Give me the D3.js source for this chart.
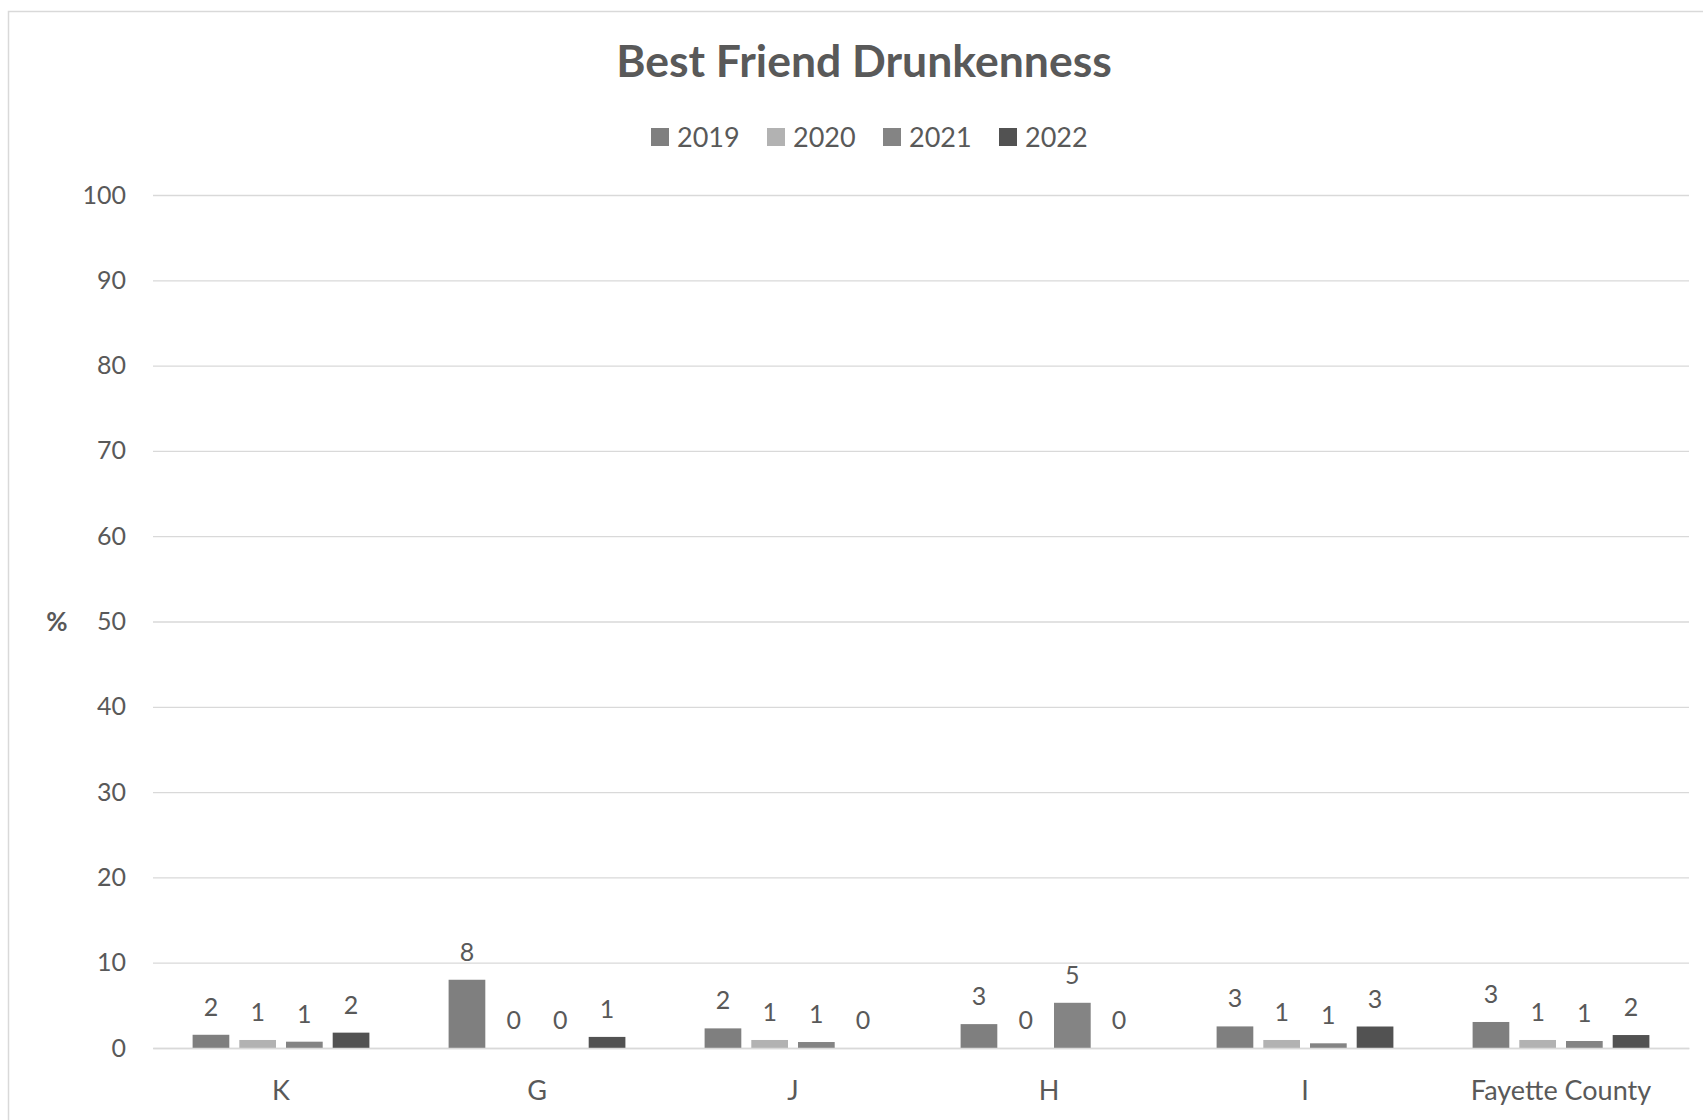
<!DOCTYPE html>
<html>
<head>
<meta charset="utf-8">
<script src="https://cdn.jsdelivr.net/npm/d3@7"></script>
<style>
  html, body { margin: 0; padding: 0; background: #fff; }
  svg { display: block; }
  text { font-family: Lato, "Open Sans", sans-serif; fill: #595959; }
</style>
</head>
<body>
<svg id="chart" width="1703" height="1120"></svg>
<script>
const categories = ["K", "G", "J", "H", "I", "Fayette County"];
const years = ["2019", "2020", "2021", "2022"];
const values2019 = [1.55, 8.0, 2.3, 2.8, 2.53, 3.05];
const values2020 = [0.94, 0, 0.94, 0, 0.94, 0.94];
const values2021 = [0.74, 0, 0.7, 5.3, 0.55, 0.82];
const values2022 = [1.8, 1.3, 0, 0, 2.52, 1.52];
const yTicks = [0, 10, 20, 30, 40, 50, 60, 70, 80, 90, 100];
const colors = ["#7f7f7f", "#b2b2b2", "#848484", "#525252"];
const title = "Best Friend Drunkenness";
const yAxisTitle = "%";

const seriesValues = [values2019, values2020, values2021, values2022];
const data = categories.map((c, i) => ({
  cat: c,
  vals: years.map((y, j) => ({ year: y, idx: j, v: seriesValues[j][i] }))
}));

const svg = d3.select("#chart");

// chart border
svg.append("rect")
  .attr("x", 8.5).attr("y", 11.5)
  .attr("width", 1740).attr("height", 1140)
  .attr("fill", "none").attr("stroke", "#d9d9d9").attr("stroke-width", 1.5);

const plotLeft = 153, plotRight = 1689, plotTop = 195, plotBottom = 1048;

const x0 = d3.scaleBand().domain(categories).range([plotLeft, plotRight]).padding(0);
const groupW = x0.bandwidth() * 0.6906;
const x1 = d3.scaleBand().domain(years).range([-groupW / 2, groupW / 2]).paddingInner(0.214).paddingOuter(0);
const y = d3.scaleLinear().domain([0, 100]).range([plotBottom, plotTop]);

// gridlines
const yAxis = d3.axisLeft(y).tickValues(yTicks).tickSize(-(plotRight - plotLeft)).tickPadding(27).tickFormat(d3.format("d"));
const gy = svg.append("g").attr("transform", `translate(${plotLeft},0)`).call(yAxis);
gy.select(".domain").remove();
gy.selectAll(".tick line").attr("stroke", "#d9d9d9").attr("stroke-width", 1.3);
gy.selectAll(".tick text")
  .style("font-family", "Lato, 'Open Sans', sans-serif")
  .style("font-size", "25px")
  .attr("fill", "#595959");

// bars
const groups = svg.append("g").selectAll("g.cat")
  .data(data).join("g")
  .attr("class", "cat")
  .attr("transform", d => `translate(${x0(d.cat) + x0.bandwidth() / 2},0)`);

groups.selectAll("rect")
  .data(d => d.vals).join("rect")
  .attr("x", d => x1(d.year))
  .attr("width", x1.bandwidth())
  .attr("y", d => y(d.v))
  .attr("height", d => y(0) - y(d.v))
  .attr("fill", d => colors[d.idx]);

groups.selectAll("text.lbl")
  .data(d => d.vals).join("text")
  .attr("class", "lbl")
  .attr("x", d => x1(d.year) + x1.bandwidth() / 2)
  .attr("y", d => y(d.v) - 19)
  .attr("text-anchor", "middle")
  .style("font-size", "25px")
  .text(d => Math.round(d.v));

// x axis baseline
const xAxis = d3.axisBottom(x0).tickSize(0).tickPadding(33);
const gx = svg.append("g").attr("transform", `translate(0,${plotBottom})`).call(xAxis);
gx.select(".domain").attr("stroke", "#d9d9d9").attr("stroke-width", 1.5);
gx.selectAll(".tick text")
  .style("font-family", "Lato, 'Open Sans', sans-serif")
  .style("font-size", "27px")
  .attr("fill", "#595959");

// y axis title
svg.append("text")
  .attr("x", 57).attr("y", y(50))
  .attr("dy", "0.35em")
  .attr("text-anchor", "middle")
  .style("font-size", "26px").style("font-weight", "700")
  .text(yAxisTitle);

// title
svg.append("text")
  .attr("x", 864).attr("y", 77)
  .attr("text-anchor", "middle")
  .style("font-size", "44.5px").style("font-weight", "700")
  .text(title);

// legend
const legendX = [651, 767, 883, 999];
const legend = svg.append("g").selectAll("g")
  .data(years).join("g")
  .attr("transform", (d, i) => `translate(${legendX[i]},128)`);
legend.append("rect").attr("width", 18).attr("height", 18).attr("fill", (d, i) => colors[i]);
legend.append("text").attr("x", 26).attr("y", 18.5)
  .style("font-size", "27px").text(d => d);
</script>
</body>
</html>
